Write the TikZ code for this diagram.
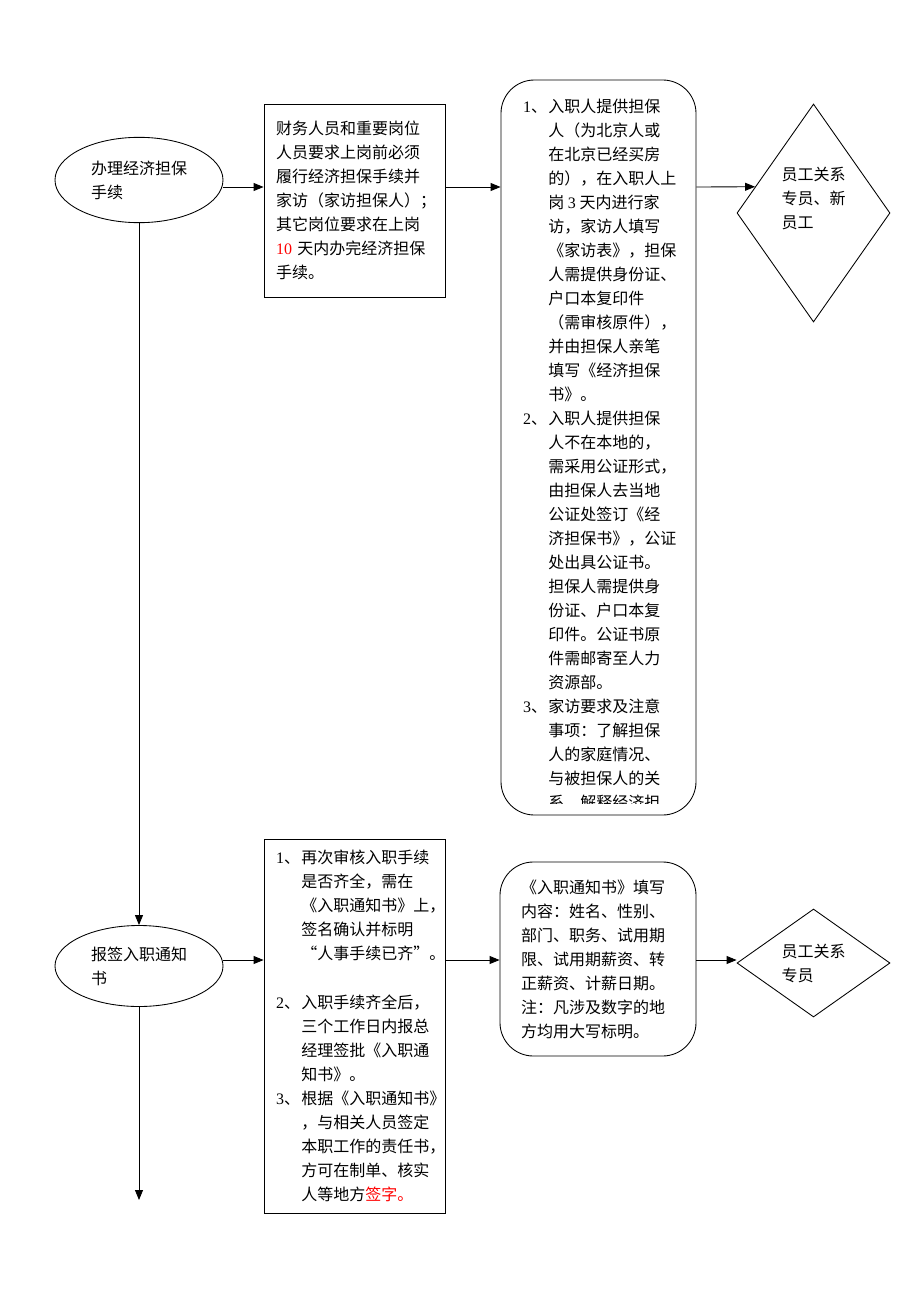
\documentclass[tikz,border=0pt]{standalone}
\usepackage{fontspec}
\usetikzlibrary{arrows.meta, calc, positioning, shapes.geometric}
\newfontfamily\cjk{Noto Sans CJK SC}
\newfontfamily\lat{Liberation Serif}
\newcommand{\lnum}[1]{\makebox[19pt][l]{{\lat #1}、}}
\newcommand{\lind}{\hspace*{19pt}}
\newcommand{\hl}[1]{\textcolor{red}{#1}}

\begin{document}
\begin{tikzpicture}[x=0.75pt, y=-0.75pt, ->, >={Triangle[length=7.5pt, width=6pt]}, line width=0.65pt,
    oval/.style={ellipse, draw, minimum width=126pt, minimum height=64pt, align=left, inner sep=0pt},
    textbox/.style={draw, text width=117.75pt, inner xsep=9pt, align=left},
    notebox/.style={draw, rounded corners=25pt},
    rolebox/.style={diamond, draw, minimum width=114.75pt, inner sep=0pt}]
    \cjk\fontsize{12pt}{18pt}\selectfont
    \useasboundingbox (0,0) rectangle (920,1302);
    %
    \coordinate (row1) at (0,187);
    \coordinate (row2) at (0,960);
    %
    \node [oval] (e1) at (139,180) {办理经济担保\\手续};
    \node [textbox, minimum height=144.75pt, right of=e1, node distance=161.625pt, yshift=-15.375pt] (b1)
        {财务人员和重要岗位\\人员要求上岗前必须\\履行经济担保手续并\\家访（家访担保人）；\\其它岗位要求在上岗\\\hl{\lat 10} 天内办完经济担保\\手续。};
    \node [notebox, minimum width=146.25pt, minimum height=551.25pt, right of=b1, node distance=183pt, yshift=-185.25pt] (rb1) {};
    \node [rolebox, minimum height=163.5pt, right of=rb1, node distance=161.25pt, yshift=175.875pt] (dm1) {};
    \node [above of=dm1, node distance=11.25pt, align=left] (dm1txt) {员工关系\\专员、新\\员工};
    %
    \begin{scope}
        \clip (rb1.north west) rectangle ([yshift=9pt]rb1.south east);
        \node [anchor=north west, align=left, inner sep=0pt, xshift=16.5pt, yshift=-14.25pt] (rb1txt) at (rb1.north west)
            {\lnum{1}入职人提供担保\\
             \lind 人（为北京人或\\
             \lind 在北京已经买房\\
             \lind 的），在入职人上\\
             \lind 岗 {\lat 3} 天内进行家\\
             \lind 访，家访人填写\\
             \lind 《家访表》，担保\\
             \lind 人需提供身份证、\\
             \lind 户口本复印件\\
             \lind （需审核原件），\\
             \lind 并由担保人亲笔\\
             \lind 填写《经济担保\\
             \lind 书》。\\
             \lnum{2}入职人提供担保\\
             \lind 人不在本地的，\\
             \lind 需采用公证形式，\\
             \lind 由担保人去当地\\
             \lind 公证处签订《经\\
             \lind 济担保书》，公证\\
             \lind 处出具公证书。\\
             \lind 担保人需提供身\\
             \lind 份证、户口本复\\
             \lind 印件。公证书原\\
             \lind 件需邮寄至人力\\
             \lind 资源部。\\
             \lnum{3}家访要求及注意\\
             \lind 事项：了解担保\\
             \lind 人的家庭情况、\\
             \lind 与被担保人的关\\
             \lind 系、解释经济担};
    \end{scope}
    %
    \node [oval, minimum height=60.75pt, below of=e1, node distance=589.5pt] (e2) {报签入职通知\\书};
    \node [textbox, minimum height=280.5pt, right of=e2, node distance=161.625pt, yshift=-45pt] (b2)
        {\lnum{1}再次审核入职手续\\
         \lind 是否齐全，需在\\
         \lind 《入职通知书》上，\\
         \lind 签名确认并标明\\
         \lind “人事手续已齐”。\\[19pt]
         \lnum{2}入职手续齐全后，\\
         \lind 三个工作日内报总\\
         \lind 经理签批《入职通\\
         \lind 知书》。\\
         \lnum{3}根据《入职通知书》\\
         \lind ，与相关人员签定\\
         \lind 本职工作的责任书，\\
         \lind 方可在制单、核实\\
         \lind 人等地方\hl{签字。}};
    \node [notebox, text width=115.5pt, inner xsep=15.75pt, minimum height=145.5pt, align=left, right of=b2, node distance=182.625pt, yshift=50.25pt] (rb2)
        {《入职通知书》填写\\内容：姓名、性别、\\部门、职务、试用期\\限、试用期薪资、转\\正薪资、计薪日期。\\注：凡涉及数字的地\\方均用大写标明。};
    \node [rolebox, minimum height=81pt, align=left, right of=rb2, node distance=161.625pt, yshift=-3pt] (dm2) {员工关系\\专员};
    \coordinate [below of=e2, node distance=175.5pt] (end);
    %
    \draw (e1.east |- row1) -- (b1.west |- row1);
    \draw (b1.east |- row1) -- (rb1.west |- row1);
    \draw (rb1.east |- row1) -- ($(dm1.west)!0.24!(dm1.north)$);
    \draw (e1) -- (e2);
    \draw (e2.east |- row2) -- (b2.west |- row2);
    \draw (b2.east |- row2) -- (rb2.west |- row2);
    \draw (rb2.east |- row2) -- (dm2.west |- row2);
    \draw (e2) -- (end);
\end{tikzpicture}
\end{document}
